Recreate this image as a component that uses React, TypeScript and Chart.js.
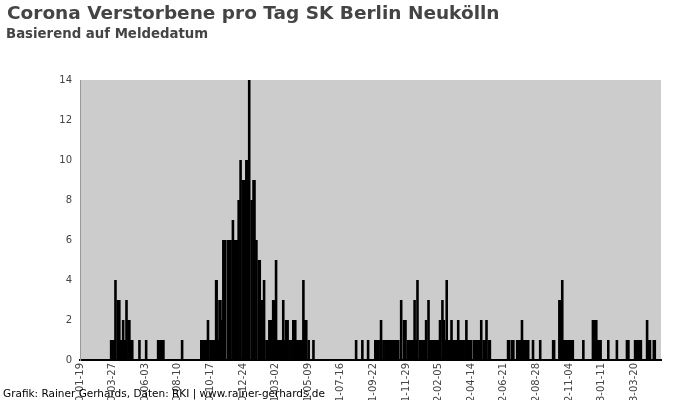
import React, { useEffect, useRef } from "react";
import { Chart, registerables } from "chart.js";

Chart.register(...registerables);

// ---- data (deaths per day) ----
const firstDay = "2020-01-19";
const lastDay = "2023-05-15";
const tickEveryDays = 68;

const deaths2020: [string, number][] = [
  ["03-24", 1], ["03-27", 1], ["03-30", 1], ["04-02", 4], ["04-07", 3], ["04-10", 3],
  ["04-14", 1], ["04-18", 2], ["04-22", 1], ["04-25", 3], ["04-29", 2], ["05-01", 2],
  ["05-05", 1], ["05-07", 1], ["05-22", 1], ["06-05", 1], ["06-30", 1], ["07-04", 1],
  ["07-08", 1], ["07-11", 1], ["08-19", 1],
  ["09-28", 1], ["10-01", 1], ["10-04", 1], ["10-08", 1], ["10-12", 2], ["10-17", 1],
  ["10-20", 1], ["10-24", 1], ["10-29", 4], ["10-30", 4], ["11-02", 1], ["11-05", 3],
  ["11-07", 3], ["11-10", 2], ["11-13", 6], ["11-15", 6], ["11-17", 6], ["11-23", 6],
  ["11-25", 6], ["11-27", 6], ["11-28", 6], ["12-03", 7], ["12-06", 6], ["12-09", 6],
  ["12-12", 6], ["12-15", 8], ["12-19", 10], ["12-24", 9], ["12-25", 9], ["12-28", 9],
  ["12-31", 10],
];

const deaths2021: [string, number][] = [
  ["01-03", 10], ["01-06", 14], ["01-11", 8], ["01-15", 9], ["01-17", 9], ["01-21", 6],
  ["01-26", 5], ["01-28", 5], ["02-01", 3], ["02-06", 4], ["02-11", 1], ["02-14", 1],
  ["02-17", 2], ["02-20", 2], ["02-25", 3], ["02-28", 3], ["03-03", 5], ["03-06", 1],
  ["03-09", 1], ["03-13", 1], ["03-18", 3], ["03-21", 1], ["03-24", 2], ["03-26", 2],
  ["03-27", 2], ["03-31", 1], ["04-04", 1], ["04-08", 2], ["04-11", 2], ["04-12", 2],
  ["04-15", 1], ["04-18", 1], ["04-22", 1], ["04-23", 1], ["04-26", 1], ["04-29", 4],
  ["05-03", 2], ["05-05", 2], ["05-10", 1], ["05-20", 1],
  ["08-17", 1], ["08-30", 1], ["09-11", 1], ["09-26", 1], ["09-29", 1], ["10-03", 1],
  ["10-08", 2], ["10-13", 1], ["10-17", 1], ["10-21", 1], ["10-25", 1], ["10-29", 1],
  ["11-02", 1], ["11-06", 1], ["11-10", 1], ["11-13", 1], ["11-19", 3], ["11-25", 2],
  ["11-28", 2], ["12-03", 1], ["12-07", 1], ["12-11", 1], ["12-14", 1], ["12-17", 3],
  ["12-20", 1], ["12-23", 4], ["12-28", 1],
];

const deaths2022: [string, number][] = [
  ["01-01", 1], ["01-05", 1], ["01-10", 2], ["01-15", 3], ["01-18", 1], ["01-21", 1],
  ["01-25", 1], ["01-29", 1], ["02-02", 1], ["02-05", 1], ["02-08", 2], ["02-13", 3],
  ["02-16", 2], ["02-19", 1], ["02-22", 4], ["02-26", 1], ["03-01", 1], ["03-04", 2],
  ["03-07", 1], ["03-10", 1], ["03-14", 1], ["03-18", 2], ["03-21", 1], ["03-24", 1],
  ["03-28", 1], ["03-31", 1], ["04-04", 2], ["04-07", 1], ["04-10", 1], ["04-14", 1],
  ["04-20", 1], ["04-24", 1], ["04-28", 1], ["05-01", 1], ["05-05", 2], ["05-10", 1],
  ["05-13", 1], ["05-16", 2], ["05-21", 1], ["05-23", 1],
  ["06-30", 1], ["07-02", 1], ["07-08", 1], ["07-11", 1], ["07-19", 1], ["07-23", 1],
  ["07-26", 1], ["07-29", 2], ["08-01", 1], ["08-04", 1], ["08-08", 1], ["08-11", 1],
  ["08-21", 1], ["09-05", 1], ["10-02", 1], ["10-04", 1], ["10-15", 3], ["10-18", 3],
  ["10-21", 4], ["10-24", 1], ["10-27", 1], ["10-31", 1], ["11-04", 1], ["11-08", 1],
  ["11-12", 1], ["12-04", 1], ["12-24", 2], ["12-28", 2], ["12-31", 2],
];

const deaths2023: [string, number][] = [
  ["01-03", 1], ["01-06", 1], ["01-09", 1], ["01-25", 1], ["02-12", 1], ["03-05", 1],
  ["03-08", 1], ["03-22", 1], ["03-26", 1], ["03-30", 1], ["04-03", 1], ["04-16", 2],
  ["04-19", 1], ["04-22", 1], ["04-30", 1], ["05-02", 1],
];

const yTicks = { min: 0, max: 14, step: 2 };

// ---- build daily categories and values ----
function buildDays(from: string, to: string): string[] {
  const out: string[] = [];
  const [fy, fm, fd] = from.split("-").map(Number);
  for (let i = 0; i < 5000; i++) {
    const s = new Date(Date.UTC(fy, fm - 1, fd + i)).toISOString().slice(0, 10);
    out.push(s);
    if (s === to) break;
  }
  return out;
}
const dayLabels = buildDays(firstDay, lastDay);
const dayIndex = new Map(dayLabels.map((d, i) => [d, i]));
const dailyDeaths: number[] = dayLabels.map(() => 0);
(
  [
    ["2020", deaths2020],
    ["2021", deaths2021],
    ["2022", deaths2022],
    ["2023", deaths2023],
  ] as [string, [string, number][]][]
).forEach(([year, list]) => {
  list.forEach(([md, v]) => {
    const idx = dayIndex.get(`${year}-${md}`);
    if (idx !== undefined) dailyDeaths[idx] = v;
  });
});

const plotBackground = {
  id: "plotBackground",
  beforeDraw(chart: any) {
    const { ctx, chartArea } = chart;
    if (!chartArea) return;
    ctx.save();
    ctx.fillStyle = "#cccccc";
    ctx.fillRect(chartArea.left, chartArea.top, chartArea.right - chartArea.left, chartArea.bottom - chartArea.top);
    ctx.restore();
  },
};

export default function App() {
  const ref = useRef<HTMLCanvasElement>(null);
  useEffect(() => {
    if (!ref.current) return;
    Chart.defaults.font.family = '"DejaVu Sans", sans-serif';
    const chart = new Chart(ref.current, {
      type: "bar",
      data: {
        labels: dayLabels,
        datasets: [
          {
            label: "Verstorbene",
            data: dailyDeaths,
            backgroundColor: "#000000",
            borderWidth: 0,
            barThickness: 2.6,
            inflateAmount: 0,
          } as any,
        ],
      },
      options: {
        animation: false,
        responsive: false,
        events: [],
        layout: { padding: { top: 80, right: 39, left: 0, bottom: 0 } },
        plugins: {
          legend: { display: false },
          tooltip: { enabled: false },
          title: { display: false },
        },
        scales: {
          x: {
            type: "category",
            offset: false,
            grid: { display: false, drawTicks: false },
            border: { display: true, color: "#000000", width: 2 },
            ticks: {
              autoSkip: false,
              minRotation: 90,
              maxRotation: 90,
              padding: 3,
              color: "#444444",
              font: { size: 10 },
              callback: (_v: any, i: number) => (i % tickEveryDays === 0 ? dayLabels[i] : ""),
            },
            afterFit: (axis: any) => {
              axis.height = 40;
            },
          },
          y: {
            min: yTicks.min,
            max: yTicks.max,
            grid: { display: false, drawTicks: false },
            border: { display: true, color: "#999999", width: 1 },
            ticks: {
              stepSize: yTicks.step,
              padding: 8,
              color: "#444444",
              font: { size: 10 },
            },
            afterFit: (axis: any) => {
              axis.width = 80;
            },
          },
        },
      },
      plugins: [plotBackground],
    });
    return () => chart.destroy();
  }, []);

  const font = '"DejaVu Sans", sans-serif';
  return (
    <div
      style={{
        position: "fixed",
        left: 0,
        top: 0,
        width: 700,
        height: 400,
        overflow: "hidden",
        background: "#ffffff",
        fontFamily: font,
      }}
    >
      <canvas ref={ref} width={700} height={400} style={{ position: "absolute", left: 0, top: 0, width: 700, height: 400 }} />
      <div
        style={{
          position: "absolute",
          left: 7,
          top: 3.5,
          fontSize: 18.5,
          lineHeight: "18.5px",
          fontWeight: "bold",
          color: "#444444",
          whiteSpace: "nowrap",
        }}
      >
        Corona Verstorbene pro Tag SK Berlin Neukölln
      </div>
      <div
        style={{
          position: "absolute",
          left: 6,
          top: 27,
          fontSize: 13.3,
          lineHeight: "13.3px",
          fontWeight: "bold",
          color: "#444444",
          whiteSpace: "nowrap",
        }}
      >
        Basierend auf Meldedatum
      </div>
      <div
        style={{
          position: "absolute",
          left: 3,
          top: 387.6,
          fontSize: 10.5,
          lineHeight: "10.5px",
          color: "#000000",
          whiteSpace: "nowrap",
        }}
      >
        Grafik: Rainer Gerhards, Daten: RKI | www.rainer-gerhards.de
      </div>
    </div>
  );
}
